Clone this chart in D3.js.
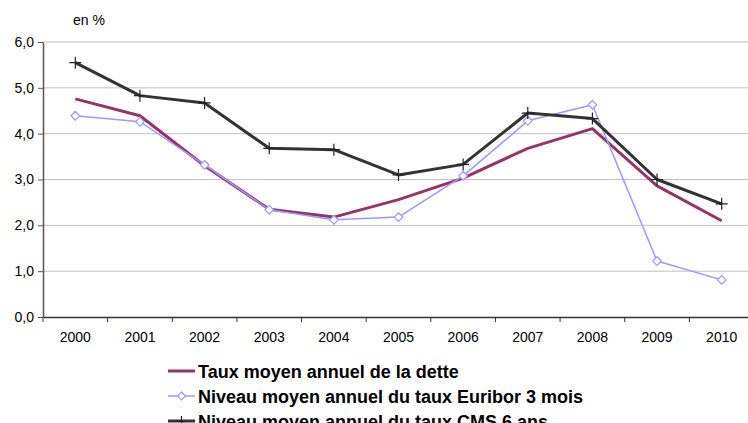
<!DOCTYPE html>
<html>
<head>
<meta charset="utf-8">
<script src="https://cdn.jsdelivr.net/npm/d3@7"></script>
<style>
body { margin: 0; background: #fff; }
svg { font-family: "Liberation Sans", Arial, sans-serif; }
</style>
</head>
<body>
<svg id="svg" width="748" height="423"></svg>
<script>
let years = ["2000","2001","2002","2003","2004","2005","2006","2007","2008","2009","2010"];
let tauxDette = [4.76, 4.39, 3.30, 2.35, 2.18, 2.56, 3.03, 3.68, 4.11, 2.86, 2.10];
let euribor = [4.39, 4.26, 3.32, 2.34, 2.12, 2.18, 3.08, 4.28, 4.63, 1.22, 0.81];
let cms = [5.55, 4.83, 4.67, 3.68, 3.65, 3.10, 3.33, 4.45, 4.33, 3.00, 2.47];
let yTicks = [0, 1, 2, 3, 4, 5, 6];

let svg = d3.select("#svg");
let padding = {top: 42, left: 43, bottom: 106};
let plot = {width: 711, height: 423 - padding.top - padding.bottom};

let xScale = d3.scaleBand().domain(years).range([0, plot.width]);
let yScale = d3.scaleLinear().domain([0, 6]).range([plot.height, 0]);

let g = svg.append("g")
	.attr("transform", "translate(" + padding.left + "," + padding.top + ")");

// grid
g.append("g")
	.selectAll("line").data(yTicks.slice(1)).enter()
	.append("line")
	.attr("x1", 0).attr("x2", plot.width)
	.attr("y1", d => yScale(d)).attr("y2", d => yScale(d))
	.attr("stroke", "#c0c0c0").attr("stroke-width", 1);

// y axis
let yAxis = g.append("g")
	.call(d3.axisLeft(yScale).tickValues(yTicks).tickSize(5).tickSizeOuter(0)
		.tickFormat(d => d3.format(".1f")(d).replace(".", ",")));
yAxis.select(".domain").attr("stroke", "#555").attr("stroke-width", 1.5);
yAxis.selectAll(".tick line").attr("stroke", "#555");
yAxis.selectAll("text").attr("font-size", 14).attr("fill", "#000").attr("x", -9)
	.attr("font-family", "Liberation Sans, Arial, sans-serif");

// x axis
let xAxis = g.append("g")
	.attr("transform", "translate(0," + plot.height + ")")
	.call(d3.axisBottom(xScale).tickSize(0).tickSizeOuter(0));
xAxis.select(".domain").attr("stroke", "#333").attr("stroke-width", 1.5);
xAxis.selectAll("text").attr("font-size", 14).attr("fill", "#000").attr("y", 25).attr("dy", 0)
	.attr("font-family", "Liberation Sans, Arial, sans-serif");
xAxis.selectAll("line.sep").data(years).enter()
	.append("line")
	.attr("class", "sep")
	.attr("x1", d => xScale(d)).attr("x2", d => xScale(d))
	.attr("y1", 0).attr("y2", 5)
	.attr("stroke", "#333");

svg.append("text")
	.attr("x", 73).attr("y", 25)
	.attr("font-size", 14)
	.text("en %");

let series = [
	{name: "Taux moyen annuel de la dette", values: tauxDette, color: "#993366", width: 3, marker: "none"},
	{name: "Niveau moyen annuel du taux Euribor 3 mois", values: euribor, color: "#9999ff", width: 1.5, marker: "diamond"},
	{name: "Niveau moyen annuel du taux CMS 6 ans", values: cms, color: "#333333", width: 3, marker: "plus"}
];

let line = d3.line()
	.x((d, i) => xScale(years[i]) + xScale.bandwidth() / 2)
	.y(d => yScale(d));

function drawMarker(sel, type, color, r) {
	if (type === "diamond") {
		sel.append("path")
			.attr("d", d3.symbol(d3.symbolDiamond2, r * 8)())
			.attr("fill", "#fff").attr("stroke", color).attr("stroke-width", 1.2);
	} else if (type === "plus") {
		sel.append("path")
			.attr("d", "M-" + r + ",0H" + r + "M0,-" + r + "V" + r)
			.attr("stroke", "#222").attr("stroke-width", 1.2).attr("fill", "none");
	}
}

series.forEach(function(s) {
	g.append("path")
		.datum(s.values)
		.attr("d", line)
		.attr("fill", "none")
		.attr("stroke", s.color)
		.attr("stroke-width", s.width)
		.attr("stroke-linejoin", "round");
	if (s.marker !== "none") {
		g.selectAll(null).data(s.values).enter()
			.append("g")
			.attr("transform", (d, i) => "translate(" + (xScale(years[i]) + xScale.bandwidth() / 2) + "," + yScale(d) + ")")
			.each(function() { drawMarker(d3.select(this), s.marker, s.color, 6); });
	}
});

// legend
let legend = svg.append("g").attr("transform", "translate(168,371)");
series.forEach(function(s, i) {
	let row = legend.append("g").attr("transform", "translate(0," + (i * 25) + ")");
	row.append("line")
		.attr("x1", 0).attr("x2", 27).attr("y1", 0).attr("y2", 0)
		.attr("stroke", s.color).attr("stroke-width", s.width);
	let m = row.append("g").attr("transform", "translate(13.5,0)");
	drawMarker(m, s.marker, s.color, 5);
	row.append("text")
		.attr("x", 30).attr("y", 7)
		.attr("font-size", 18).attr("font-weight", "bold")
		.text(s.name);
});
</script>
</body>
</html>
